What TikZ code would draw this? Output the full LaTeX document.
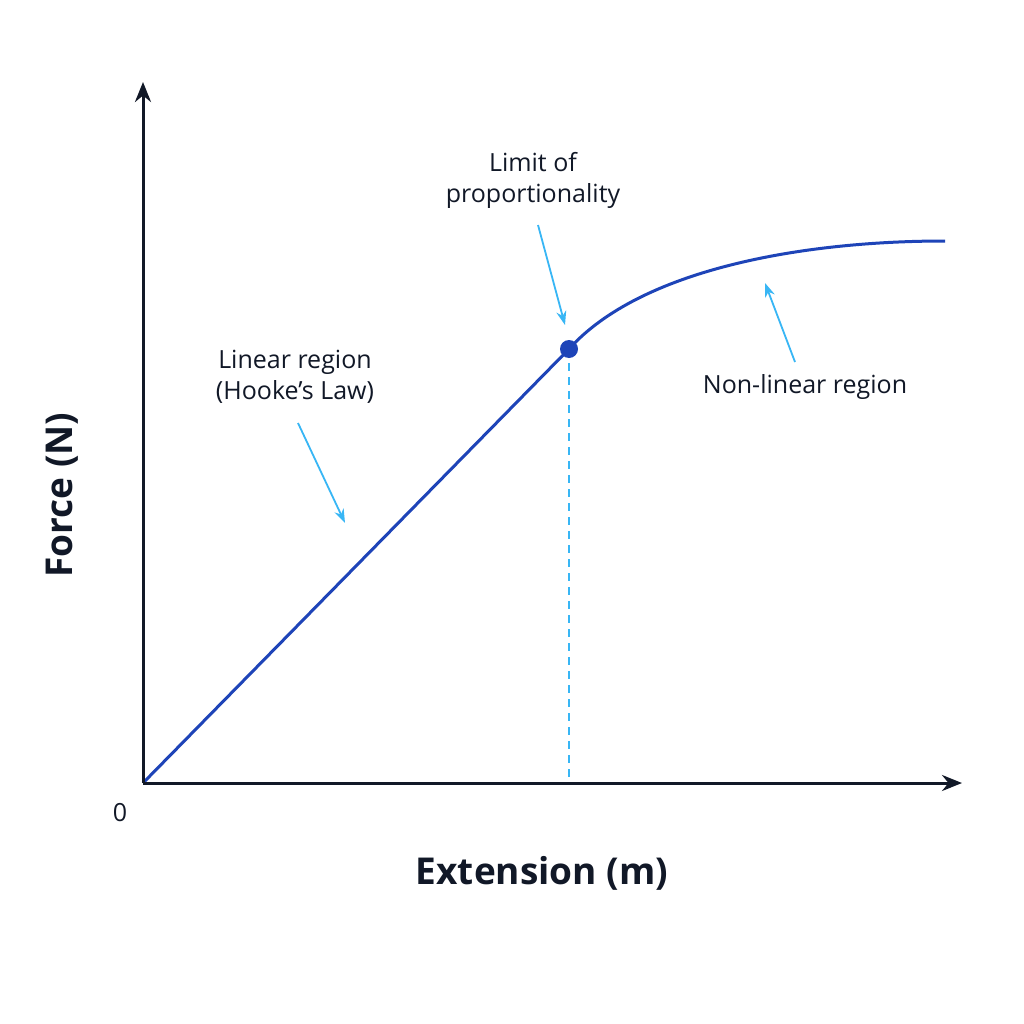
\documentclass[tikz,border=0pt]{standalone}
\usepackage{fontspec}
\setmainfont{Open Sans}
\usetikzlibrary{arrows.meta}
\definecolor{ax}{HTML}{111827}
\definecolor{cv}{HTML}{1E44B8}
\definecolor{lb}{HTML}{38B6F5}
\tikzset{lbl/.style={font=\fontsize{25}{31}\selectfont,text=ax,align=center},
 pointer/.style={lb,line width=1.8pt,-{Stealth[length=14pt,width=10pt]}},
 axis/.style={ax,line width=3pt,-{Stealth[length=20pt,width=16pt]}}}
\begin{document}
\begin{tikzpicture}[x=1pt,y=-1pt]
\useasboundingbox[fill=white] (0,0) rectangle (1024,1024);
\coordinate (O) at (143,783);
\coordinate (Y) at (143,82);
\coordinate (X) at (962,783);
\coordinate (P) at (569,349);
\coordinate (E) at (945,241);
\coordinate (B) at (569,783);
\draw[lb,line width=1.5pt,dash pattern=on 8pt off 6pt] (P) -- (B);
\draw[cv,line width=3pt] (O) -- (P) .. controls (640,270) and (800,241) .. (E);
\fill[cv] (P) circle (9);
\draw[axis] (O) -- (Y);
\draw[axis] (O) -- (X);
\node[lbl] (lim) at (533,180) {Limit of\\proportionality};
\node[lbl] (lin) at (295,377) {Linear region\\(Hooke’s Law)};
\node[lbl] (nl) at (805,387) {Non-linear region};
\coordinate (a1) at (538,225); \coordinate (a2) at (565,325);
\coordinate (b1) at (298,423); \coordinate (b2) at (345,523);
\coordinate (c1) at (795,362); \coordinate (c2) at (765,283);
\draw[pointer] (a1) -- (a2);
\draw[pointer] (b1) -- (b2);
\draw[pointer] (c1) -- (c2);
\node[lbl] (zero) at (120,813) {0};
\node[font=\fontsize{37}{44}\selectfont\bfseries,text=ax,rotate=90] (fy) at (62,495) {Force (N)};
\node[font=\fontsize{37}{44}\selectfont\bfseries,text=ax] (fx) at (542,873) {Extension (m)};
\end{tikzpicture}
\end{document}
